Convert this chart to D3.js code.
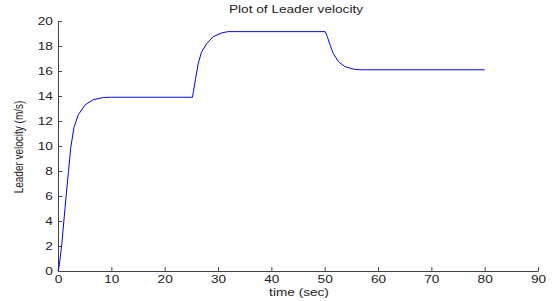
<!DOCTYPE html>
<html>
<head>
<meta charset="utf-8">
<script src="https://cdn.jsdelivr.net/npm/d3@7"></script>
<style>
  body { margin: 0; background: #fff; }
  text { font-family: "Liberation Sans", Arial, sans-serif; fill: #222; }
</style>
</head>
<body>
<div id="chart"></div>
<script>
// values
var timeData = [0, 0.2, 0.7, 1.1, 1.5, 1.95, 2.4, 3.0, 3.8, 5.1, 6.6, 8.5, 10, 25.2,
                25.4, 25.8, 26.3, 26.9, 27.9, 29.1, 30.7, 31.9, 33, 50.1,
                50.5, 51.0, 51.6, 52.6, 53.8, 55.4, 56.6, 58, 80];
var velocityData = [0, 0.35, 2.1, 4.0, 5.9, 7.9, 9.9, 11.5, 12.5, 13.3, 13.7, 13.88, 13.9, 13.9,
                    14.35, 15.4, 16.6, 17.5, 18.2, 18.75, 19.05, 19.15, 19.15, 19.15,
                    18.75, 18.1, 17.4, 16.75, 16.35, 16.15, 16.1, 16.1, 16.1];
var xTicks = [0, 10, 20, 30, 40, 50, 60, 70, 80, 90];
var yTicks = [0, 2, 4, 6, 8, 10, 12, 14, 16, 18, 20];

var W = 553, H = 301,
    plotLeft = 58, plotRight = 538, plotTop = 21, plotBottom = 271,
    SX = 1.3; // text in the picture is stretched sideways

var svg = d3.select("#chart")
    .append("svg")
    .attr("width", W)
    .attr("height", H);

var x = d3.scaleLinear().domain([0, 90]).range([plotLeft, plotRight]);
var y = d3.scaleLinear().domain([0, 20]).range([plotBottom, plotTop]);

var xAxis = svg.append("g")
    .attr("transform", "translate(0," + plotBottom + ")")
    .call(d3.axisBottom(x).tickValues(xTicks).tickSizeInner(-4).tickSizeOuter(0).tickPadding(4.5));

var yAxis = svg.append("g")
    .attr("transform", "translate(" + plotLeft + ",0)")
    .call(d3.axisLeft(y).tickValues(yTicks).tickSizeInner(-4).tickSizeOuter(0).tickPadding(4));

[xAxis, yAxis].forEach(function(g) {
    g.attr("font-family", null).attr("font-size", null);
    g.select(".domain").attr("stroke", "#444");
    g.selectAll(".tick line").attr("stroke", "#444");
    g.selectAll(".tick text")
        .style("font-size", "10.5px")
        .attr("transform", "scale(" + SX + ",1)");
});

var line = d3.line()
    .x(function(d, i) { return x(timeData[i]); })
    .y(function(d) { return y(d); });

svg.append("path")
    .datum(velocityData)
    .attr("d", line)
    .attr("fill", "none")
    .attr("stroke", "#0000ff")
    .attr("stroke-width", 1);

svg.append("text")
    .attr("transform", "translate(296,13) scale(" + SX + ",1)")
    .attr("text-anchor", "middle")
    .style("font-size", "10.5px")
    .text("Plot of Leader velocity");

svg.append("text")
    .attr("transform", "translate(299,296) scale(" + SX + ",1)")
    .attr("text-anchor", "middle")
    .style("font-size", "10.5px")
    .text("time (sec)");

svg.append("text")
    .attr("transform", "translate(22.5,147) scale(" + SX + ",1) rotate(-90)")
    .attr("text-anchor", "middle")
    .style("font-size", "10px")
    .text("Leader velocity (m/s)");
</script>
</body>
</html>
